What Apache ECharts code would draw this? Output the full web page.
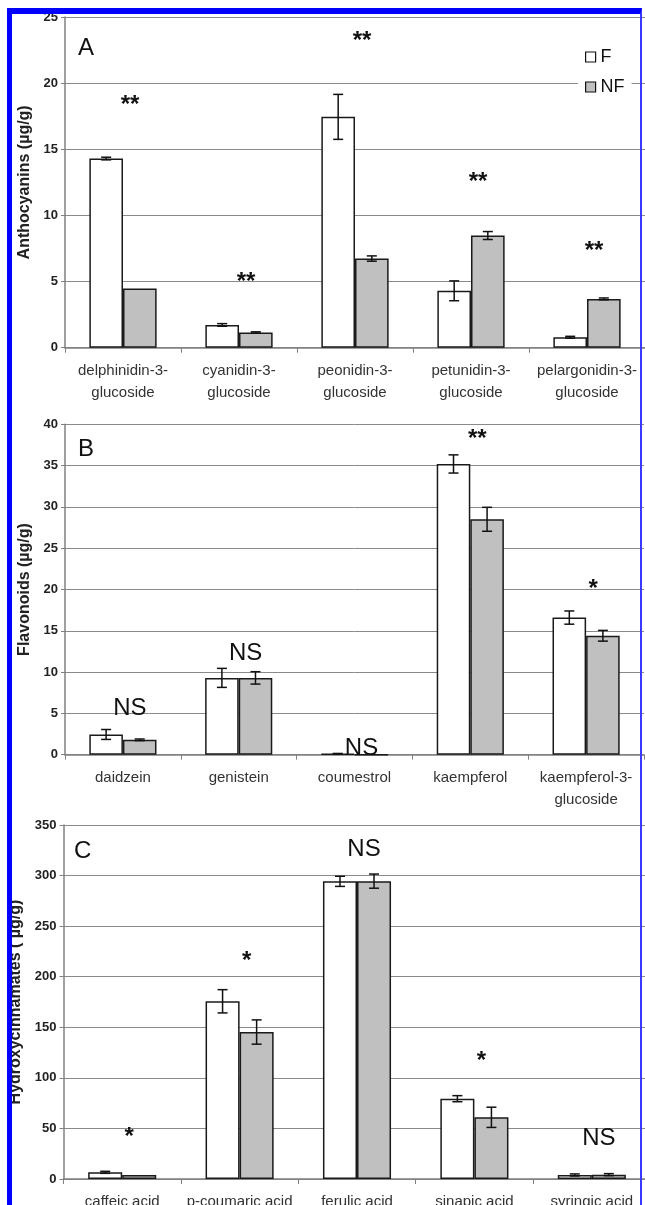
<!DOCTYPE html>
<html>
<head>
<meta charset="utf-8">
<script src="https://cdn.jsdelivr.net/npm/echarts@6/dist/echarts.min.js"></script>
<style>
html,body{margin:0;padding:0;overflow:hidden;background:#fff;}
#chart{width:652px;height:1205px;position:absolute;left:0;top:0;}
#frame{position:absolute;left:7px;top:8px;width:628px;height:1300px;border-left:5px solid #0000ff;border-top:6px solid #0000ff;border-right:2px solid #3a3aff;z-index:10;pointer-events:none;}
</style>
</head>
<body>
<div id="chart"></div>
<div id="frame"></div>
<script>
// ---- Panel A: Anthocyanins ----
const categoriesA = ['delphinidin-3-\nglucoside','cyanidin-3-\nglucoside','peonidin-3-\nglucoside','petunidin-3-\nglucoside','pelargonidin-3-\nglucoside'];
const fA = [14.3, 1.72, 17.45, 4.3, 0.79];
const nfA = [4.47, 1.15, 6.74, 8.48, 3.69];
const fErrA = [0.1, 0.1, 1.7, 0.75, 0.07];
const nfErrA = [0, 0.05, 0.2, 0.3, 0.07];
const sigA = ['**','**','**','**','**'];
const sigYA = [18.8, 5.4, 23.6, 12.95, 7.7];

// ---- Panel B: Flavonoids ----
const categoriesB = ['daidzein','genistein','coumestrol','kaempferol','kaempferol-3-\nglucoside'];
const fB = [2.45, 9.3, 0.1, 35.2, 16.6];
const nfB = [1.8, 9.3, 0, 28.5, 14.4];
const fErrB = [0.6, 1.15, 0.05, 1.1, 0.8];
const nfErrB = [0.1, 0.75, 0, 1.45, 0.65];
const sigB = ['NS','NS','NS','**','*'];
const sigYB = [5.65, 12.3, 0.8, 38.9, 20.7];

// ---- Panel C: Hydroxycinnamates ----
const categoriesC = ['caffeic acid','p-coumaric acid','ferulic acid','sinapic acid','syringic acid'];
const fC = [6.6, 175.7, 294.3, 79.4, 4];
const nfC = [4, 145.3, 294.5, 61, 4.3];
const fErrC = [1, 11.5, 5, 3, 1];
const nfErrC = [0, 12, 7, 10, 1];
const sigC = ['*','*','NS','*','NS'];
const sigYC = [47, 221.5, 326, 122, 40.5];

const yMax = [25, 40, 350];
const yStep = [5, 5, 50];
const yNames = ['Anthocyanins (µg/g)', 'Flavonoids (µg/g)', 'Hydroxycinnamates ( µg/g)'];
const panelLetters = ['A', 'B', 'C'];
const seriesNames = ['F', 'NF'];

const FONT = '"Liberation Sans", Arial, sans-serif';
const CAT_GAP = 0.42;
const barColors = ['#ffffff', '#c0c0c0'];

const panels = [
  {cats: categoriesA, f: fA, nf: nfA, fe: fErrA, nfe: nfErrA, sig: sigA, sigY: sigYA},
  {cats: categoriesB, f: fB, nf: nfB, fe: fErrB, nfe: nfErrB, sig: sigB, sigY: sigYB},
  {cats: categoriesC, f: fC, nf: nfC, fe: fErrC, nfe: nfErrC, sig: sigC, sigY: sigYC}
];

const grids = [
  {left: 65, right: 7, top: 17, height: 330.7, outerBoundsMode: 'none'},
  {left: 65, right: 8, top: 424.3, height: 330.4, outerBoundsMode: 'none'},
  {left: 63.5, right: 1.5, top: 825, height: 354, outerBoundsMode: 'none'}
];
const nameGaps = [29, 31, 38];
const titleTops = [36, 437, 839];
const titleLefts = [78, 78, 74];

function errRender(params, api) {
  const cat = api.value(0), val = api.value(1), err = api.value(2), side = api.value(3);
  if (!err) return null;
  const catW = api.size([1, 0])[0];
  const bw = catW * (1 - CAT_GAP) / 2;
  const c = api.coord([cat, val]);
  const x = c[0] + (side === 0 ? -bw / 2 : bw / 2);
  const top = api.coord([cat, val + err])[1];
  const bot = api.coord([cat, Math.max(0, val - err)])[1];
  const cap = 5;
  const st = {stroke: '#111', lineWidth: 1.5};
  return {type: 'group', children: [
    {type: 'line', shape: {x1: x, y1: top, x2: x, y2: bot}, style: st},
    {type: 'line', shape: {x1: x - cap, y1: top, x2: x + cap, y2: top}, style: st},
    {type: 'line', shape: {x1: x - cap, y1: bot, x2: x + cap, y2: bot}, style: st}
  ]};
}

const panelsSig = {};
function sigRender(params, api) {
  const cat = api.value(0), y = api.value(1);
  const p = api.coord([cat, y]);
  const label = panelsSig[params.seriesIndex][params.dataIndex];
  const isStar = label.indexOf('*') >= 0;
  return {
    type: 'text',
    x: p[0] + 7,
    y: p[1] + (isStar ? 6 : 0),
    style: {
      text: label,
      align: 'center',
      verticalAlign: 'middle',
      font: (isStar ? 'bold 24px ' : '24px ') + FONT,
      fill: '#111'
    }
  };
}

const option = {
  animation: false,
  backgroundColor: '#fff',
  textStyle: {fontFamily: FONT},
  title: panelLetters.map((t, i) => ({
    text: t, left: titleLefts[i], top: titleTops[i], padding: 0,
    textStyle: {fontSize: 24, fontWeight: 'normal', color: '#111', fontFamily: FONT}
  })),
  legend: {
    orient: 'vertical', left: 578, top: 43, padding: [5, 7, 5, 7],
    backgroundColor: '#fff', itemWidth: 10, itemHeight: 10, itemGap: 12,
    textStyle: {fontSize: 18, color: '#111', fontFamily: FONT},
    data: seriesNames.map((n, i) => ({name: n, icon: 'rect', itemStyle: {color: barColors[i], borderColor: '#111', borderWidth: 1.2}}))
  },
  grid: grids,
  xAxis: panels.map((p, i) => ({
    type: 'category', gridIndex: i, data: p.cats,
    axisLine: {lineStyle: {color: '#808080', width: 1.5}},
    axisTick: {show: true, length: 5, lineStyle: {color: '#808080'}},
    axisLabel: {fontSize: 15, color: '#333', lineHeight: 22, margin: 12, fontFamily: FONT, interval: 0}
  })),
  yAxis: panels.map((p, i) => ({
    type: 'value', gridIndex: i, min: 0, max: yMax[i], interval: yStep[i],
    name: yNames[i], nameLocation: 'middle', nameGap: nameGaps[i],
    nameTextStyle: {fontSize: 16, fontWeight: 'bold', color: '#222', fontFamily: FONT},
    axisLine: {show: true, lineStyle: {color: '#808080', width: 1.5}},
    axisTick: {show: true, length: 4, lineStyle: {color: '#808080'}},
    axisLabel: {fontSize: 13, fontWeight: 'bold', color: '#222', margin: 7, fontFamily: FONT},
    splitLine: {show: true, lineStyle: {color: '#8a8a8a', width: 1}}
  })),
  series: []
};

panels.forEach((p, i) => {
  [p.f, p.nf].forEach((vals, k) => {
    option.series.push({
      type: 'bar', name: seriesNames[k], xAxisIndex: i, yAxisIndex: i,
      data: vals, barGap: '0%', barCategoryGap: (CAT_GAP * 100) + '%',
      itemStyle: {color: barColors[k], borderColor: '#1a1a1a', borderWidth: 1.5},
      z: 2
    });
  });
  const errData = [];
  p.cats.forEach((c, j) => {
    errData.push([j, p.f[j], p.fe[j], 0]);
    errData.push([j, p.nf[j], p.nfe[j], 1]);
  });
  option.series.push({
    type: 'custom', xAxisIndex: i, yAxisIndex: i, renderItem: errRender,
    data: errData, encode: {x: 0, y: 1}, z: 5, silent: true
  });
  const sIdx = option.series.length;
  panelsSig[sIdx] = p.sig;
  option.series.push({
    type: 'custom', xAxisIndex: i, yAxisIndex: i, renderItem: sigRender,
    data: p.sigY.map((y, j) => [j, y]), encode: {x: 0, y: 1}, z: 6, silent: true, clip: false
  });
});

const chart = echarts.init(document.getElementById('chart'), null, {renderer: 'canvas'});
chart.setOption(option);
</script>
</body>
</html>
